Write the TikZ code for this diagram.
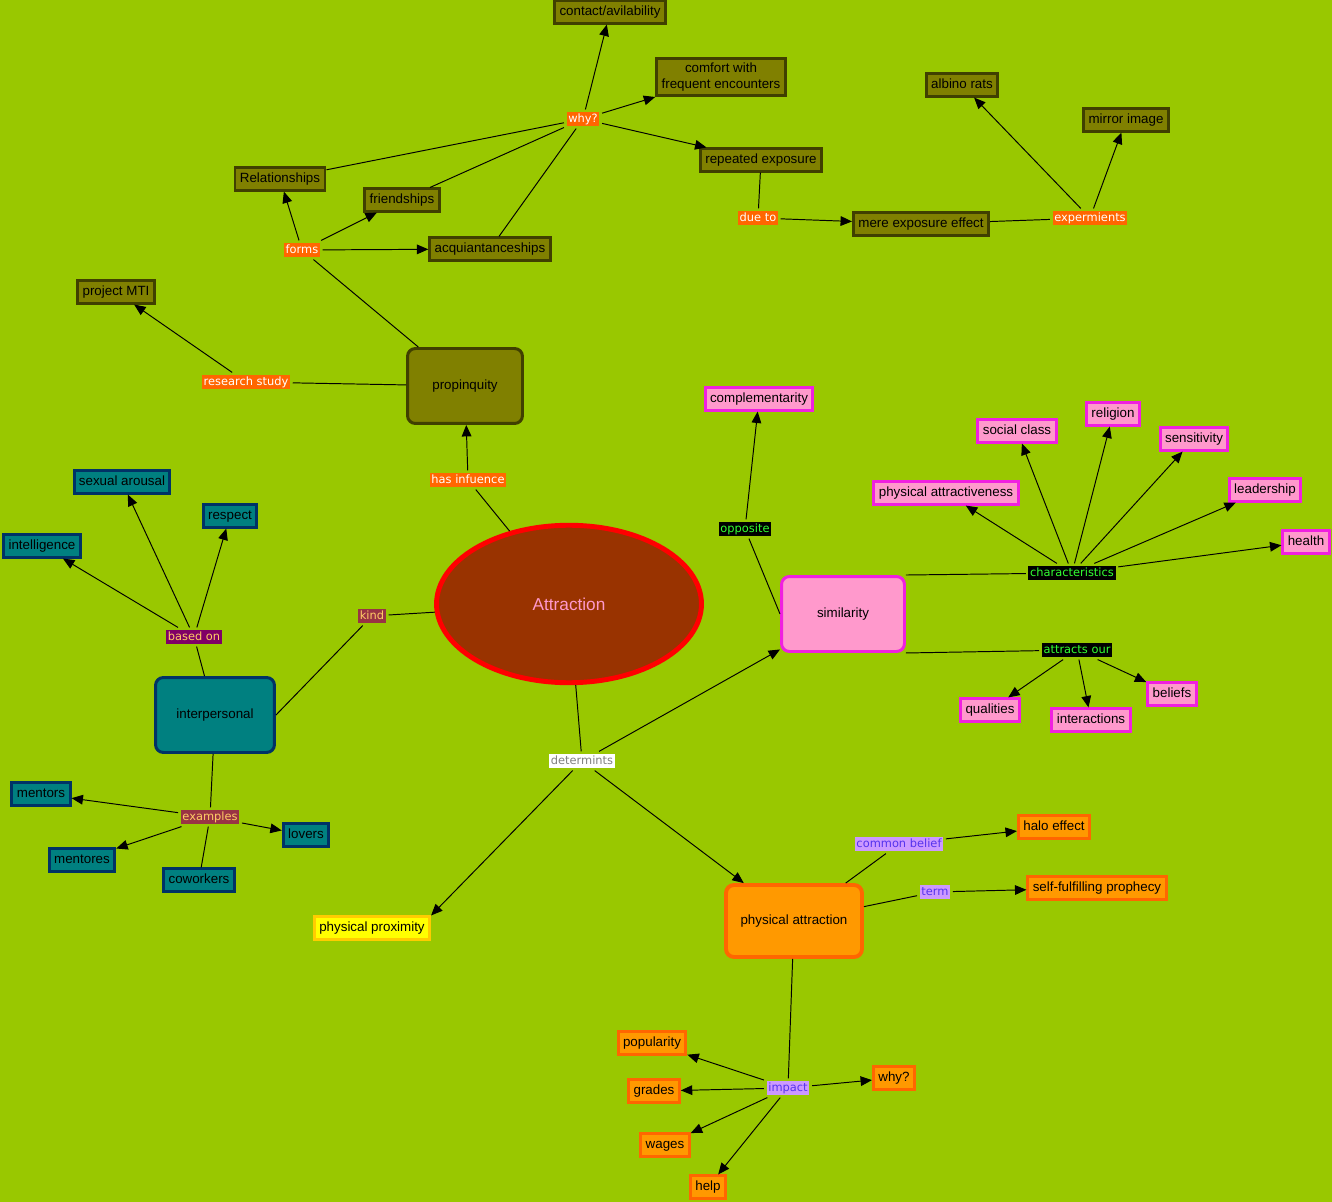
\documentclass[tikz,border=0pt]{standalone}
\usepackage{fontspec}
\setmainfont{Liberation Sans}
\newfontfamily\linkfont{DejaVu Sans}
\usepackage{tikz}
\usetikzlibrary{arrows.meta}
\usetikzlibrary{shapes.geometric}

\definecolor{bg}{HTML}{99C800}
\definecolor{attrfill}{HTML}{993300}
\definecolor{attrtext}{HTML}{FF99CC}
\definecolor{olivefill}{HTML}{808000}
\definecolor{olivedraw}{HTML}{404000}
\definecolor{tealfill}{HTML}{008080}
\definecolor{tealdraw}{HTML}{003366}
\definecolor{pinkfill}{HTML}{FF99CC}
\definecolor{pinkdraw}{HTML}{F020E0}
\definecolor{orangefill}{HTML}{FF9900}
\definecolor{orangedraw}{HTML}{FF6600}
\definecolor{proxfill}{HTML}{FFFF00}
\definecolor{proxdraw}{HTML}{FFCC00}
\definecolor{linkorange}{HTML}{FF6600}
\definecolor{linkplum}{HTML}{800066}
\definecolor{linkbrick}{HTML}{993344}
\definecolor{linkyellow}{HTML}{FFCC66}
\definecolor{linkgreen}{HTML}{33FF33}
\definecolor{lavender}{HTML}{CC99FF}
\definecolor{linkblue}{HTML}{5533EE}

\begin{document}
\begin{tikzpicture}[x=0.02cm, y=-0.02cm, line width=0.55pt,
    >={Triangle[length=6.5pt,width=5.5pt]},
    concept/.style={rectangle, line width=1.7pt, inner xsep=2.8pt, inner ysep=2.6pt,
        text height=5.7pt, text depth=1.7pt, font=\fontsize{7.6}{9}\selectfont},
    topic/.style={concept, rounded corners=4.5pt, minimum height=1.5cm},
    propbox/.style={concept, fill=olivefill, draw=olivedraw},
    persbox/.style={concept, fill=tealfill, draw=tealdraw},
    simbox/.style={concept, fill=pinkfill, draw=pinkdraw},
    physbox/.style={concept, fill=orangefill, draw=orangedraw},
    link/.style={inner xsep=1pt, inner ysep=0.8pt, outer sep=1.5pt,
        text height=4.9pt, text depth=1.4pt, font=\linkfont\fontsize{6.5}{7.5}\selectfont},
    proplink/.style={link, fill=linkorange, text=white},
    perslink/.style={link, fill=linkbrick, text=linkyellow},
    simlink/.style={link, fill=black, text=linkgreen},
    physlink/.style={link, fill=lavender, text=linkblue}]

    \fill[bg] (0,0) rectangle (1332,1202);
    \useasboundingbox (0,0) rectangle (1332,1202);

    \node[ellipse, fill=attrfill, draw=red, line width=2.8pt, minimum width=5.3cm,
        minimum height=3.15cm, text=attrtext, font=\fontsize{9.8}{11}\selectfont] (attr) at (569,604) {Attraction};

    \node[topic, propbox, minimum width=2.3cm] (prop) at (465,386) {propinquity};
    \node[proplink] (hasinf) at (468,480) {has infuence};
    \node[proplink] (forms) at (302,250) {forms};
    \node[proplink] (research) at (246,382) {research study};
    \node[proplink] (why) at (583,119) {why?};
    \node[proplink] (dueto) at (758,218) {due to};
    \node[proplink] (experiments) at (1090,218) {expermients};
    \node[propbox] (relations) at (280,179) {Relationships};
    \node[propbox] (friends) at (402,200) {friendships};
    \node[propbox] (acquaint) at (490,249) {acquiantanceships};
    \node[propbox] (mti) at (116,292) {project MTI};
    \node[propbox] (contact) at (610,12) {contact/avilability};
    \node[propbox, align=center, text height=, text depth=] (comfort) at (721,77) {comfort with\\frequent encounters};
    \node[propbox] (repeated) at (761,160) {repeated exposure};
    \node[propbox] (mere) at (921,224) {mere exposure effect};
    \node[propbox] (albino) at (962,85) {albino rats};
    \node[propbox] (mirror) at (1126,120) {mirror image};

    \node[topic, persbox, minimum width=2.38cm] (interp) at (215,715) {interpersonal};
    \node[perslink] (kind) at (372,616) {kind};
    \node[link, fill=linkplum, text=linkyellow] (basedon) at (194,637) {based on};
    \node[perslink] (examples) at (210,817) {examples};
    \node[persbox] (arousal) at (122,482) {sexual arousal};
    \node[persbox] (respect) at (230,516) {respect};
    \node[persbox] (intel) at (42,546) {intelligence};
    \node[persbox] (mentors) at (41,794) {mentors};
    \node[persbox] (lovers) at (306,835) {lovers};
    \node[persbox] (mentores) at (82,860) {mentores};
    \node[persbox] (coworkers) at (199,880) {coworkers};

    \node[link, fill=white, text=gray] (determ) at (582,761) {determints};
    \node[concept, fill=proxfill, draw=proxdraw] (prox) at (372,928) {physical proximity};

    \node[topic, simbox, minimum width=2.46cm] (sim) at (843,614) {similarity};
    \node[simlink] (opposite) at (745,529) {opposite};
    \node[simlink] (charac) at (1072,573) {characteristics};
    \node[simlink] (attracts) at (1077,650) {attracts our};
    \node[simbox] (compl) at (759,399) {complementarity};
    \node[simbox] (social) at (1017,431) {social class};
    \node[simbox] (religion) at (1113,414) {religion};
    \node[simbox] (sensit) at (1194,439) {sensitivity};
    \node[simbox] (physattr) at (946,493) {physical attractiveness};
    \node[simbox] (leader) at (1265,490) {leadership};
    \node[simbox] (health) at (1306,542) {health};
    \node[simbox] (qualities) at (990,710) {qualities};
    \node[simbox] (interact) at (1091,720) {interactions};
    \node[simbox] (beliefs) at (1172,694) {beliefs};

    \node[topic, physbox, line width=2.2pt, minimum width=2.72cm, minimum height=1.44cm] (phys) at (794,921) {physical attraction};
    \node[physlink] (belief) at (899,844) {common belief};
    \node[physlink] (term) at (935,892) {term};
    \node[physlink] (impact) at (788,1088) {impact};
    \node[physbox] (halo) at (1054,827) {halo effect};
    \node[physbox] (prophecy) at (1097,888) {self-fulfilling prophecy};
    \node[physbox] (popular) at (652,1043) {popularity};
    \node[physbox] (grades) at (654,1091) {grades};
    \node[physbox] (wages) at (665,1145) {wages};
    \node[physbox] (help) at (708,1187) {help};
    \node[physbox] (why2) at (894,1078) {why?};

    \path (attr) edge (hasinf)
          (prop) edge (forms)
          (prop) edge (research)
          (relations) edge (why)
          (friends) edge (why)
          (acquaint) edge (why)
          (repeated) edge (dueto)
          (mere) edge (experiments)
          (attr) edge (kind)
          (kind) edge (interp.east)
          (interp) edge (basedon)
          (interp) edge (examples)
          (examples) edge (coworkers)
          (attr) edge (determ)
          (sim.west) edge (opposite)
          (sim.north east) edge (charac)
          (sim.south east) edge (attracts)
          (phys) edge (belief)
          (phys) edge (term)
          (phys) edge (impact);

    \path[->] (hasinf) edge (prop)
          (forms) edge (relations)
          (forms) edge (friends)
          (forms) edge (acquaint)
          (research) edge (mti)
          (why) edge (contact)
          (why) edge (comfort)
          (why) edge (repeated)
          (dueto) edge (mere)
          (experiments) edge (albino)
          (experiments) edge (mirror)
          (basedon) edge (intel)
          (basedon) edge (arousal)
          (basedon) edge (respect)
          (examples) edge (mentors)
          (examples) edge (lovers)
          (examples) edge (mentores)
          (determ) edge (prox.north east)
          (determ) edge (phys)
          (determ) edge (sim)
          (opposite) edge (compl)
          (charac) edge (physattr)
          (charac) edge (social)
          (charac) edge (religion)
          (charac) edge (sensit)
          (charac) edge (leader)
          (charac) edge (health)
          (attracts) edge (qualities)
          (attracts) edge (interact)
          (attracts) edge (beliefs)
          (belief) edge (halo)
          (term) edge (prophecy)
          (impact) edge (popular)
          (impact) edge (grades)
          (impact) edge (wages)
          (impact) edge (help)
          (impact) edge (why2);
\end{tikzpicture}
\end{document}
